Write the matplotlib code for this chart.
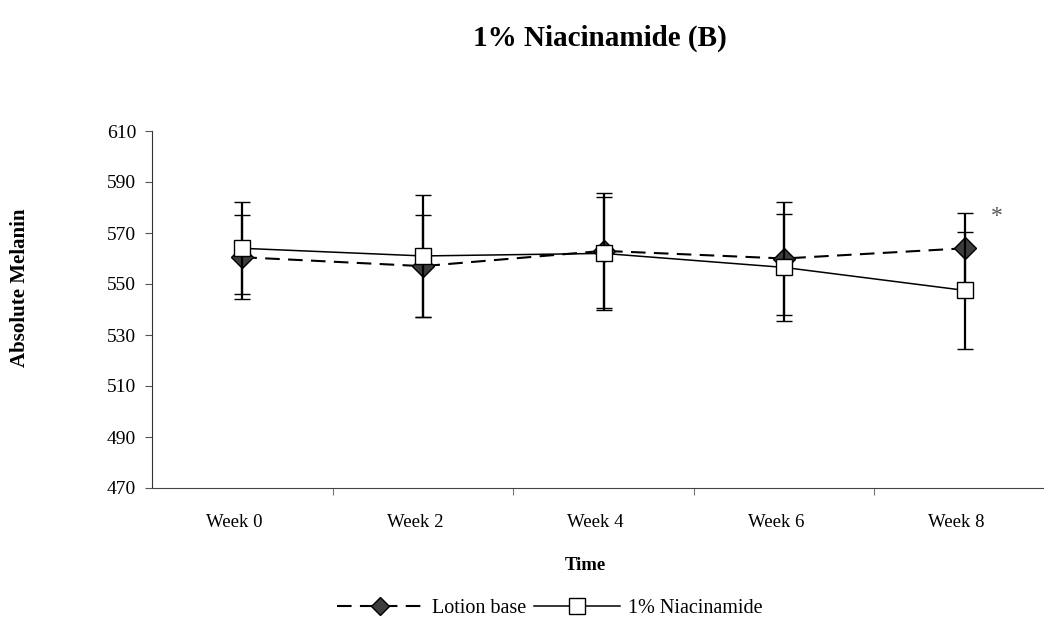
import matplotlib
matplotlib.use('Agg')
import matplotlib.pyplot as plt
import matplotlib.transforms as mtransforms
from matplotlib.lines import Line2D
import numpy as np

weeks = ['Week 0', 'Week 2', 'Week 4', 'Week 6', 'Week 8']
lotion_mean = [560.5, 557, 563, 560, 564]
lotion_err = [16.5, 20, 22.5, 22, 14]
niac_mean = [564, 561, 562, 556.5, 547.5]
niac_err = [18, 24, 22, 21, 23]
y_ticks = [470, 490, 510, 530, 550, 570, 590, 610]

plt.rcParams['font.family'] = ['Liberation Serif', 'DejaVu Serif']

fig = plt.figure(figsize=(10.44, 6.34), dpi=100)
ax = fig.add_axes([152 / 1044, 1 - 488 / 634, 903 / 1044, 357 / 634])

x = np.arange(len(weeks))

lot_style = dict(color='black', linestyle=(0, (7, 4)), linewidth=1.5, marker='D',
                 markersize=11, markerfacecolor='#3c3c3c', markeredgecolor='black',
                 markeredgewidth=1.0)
nia_style = dict(color='black', linestyle='-', linewidth=1.1, marker='s',
                 markersize=12, markerfacecolor='white', markeredgecolor='black',
                 markeredgewidth=1.0)

ax.errorbar(x, lotion_mean, yerr=lotion_err, ecolor='black', elinewidth=1.6,
            capsize=6, capthick=1.8, zorder=3, **lot_style)
ax.errorbar(x, niac_mean, yerr=niac_err, ecolor='black', elinewidth=1.6,
            capsize=6, capthick=1.8, zorder=4, **nia_style)

# significance mark at week 8
ax.text(4.18, 576.5, '*', fontsize=17, color='#555555', ha='center', va='center')

ax.set_xlim(-0.5, 4.5)
ax.set_ylim(470, 610)
ax.set_yticks(y_ticks)
ax.set_xticks(x)
ax.set_xticklabels(weeks)
ax.set_xticks(x[:-1] + 0.5, minor=True)

for s in ['top', 'right']:
    ax.spines[s].set_visible(False)
ax.spines['left'].set_color('#333333')
ax.spines['bottom'].set_color('#444444')

ax.tick_params(axis='x', which='major', length=0, pad=19, labelsize=13.5)
ax.tick_params(axis='x', which='minor', length=5, color='#777777', width=0.8)
ax.tick_params(axis='y', length=5, pad=6.5, labelsize=14, color='#555555')

shift = mtransforms.ScaledTranslation(-8 / 100, 0, fig.dpi_scale_trans)
for lab in ax.get_xticklabels():
    lab.set_transform(lab.get_transform() + shift)

fig.text(600 / 1044, 1 - 38 / 634, '1% Niacinamide (B)', fontsize=21,
         fontweight='bold', ha='center', va='center')
fig.text(20 / 1044, 1 - 288 / 634, 'Absolute Melanin', fontsize=15,
         fontweight='bold', rotation=90, ha='center', va='center')
fig.text(585 / 1044, 1 - 566 / 634, 'Time', fontsize=13.5,
         fontweight='bold', ha='center', va='center')

handles = [Line2D([], [], **dict(lot_style, markersize=9)),
           Line2D([], [], **nia_style)]
fig.legend(handles, ['Lotion base', '1% Niacinamide'], loc='center',
           bbox_to_anchor=(550 / 1044, 1 - 608 / 634), ncol=2,
           frameon=False, fontsize=14.5, handlelength=4.3, handletextpad=0.4,
           columnspacing=0.4)

fig.savefig('out.png', dpi=100)
